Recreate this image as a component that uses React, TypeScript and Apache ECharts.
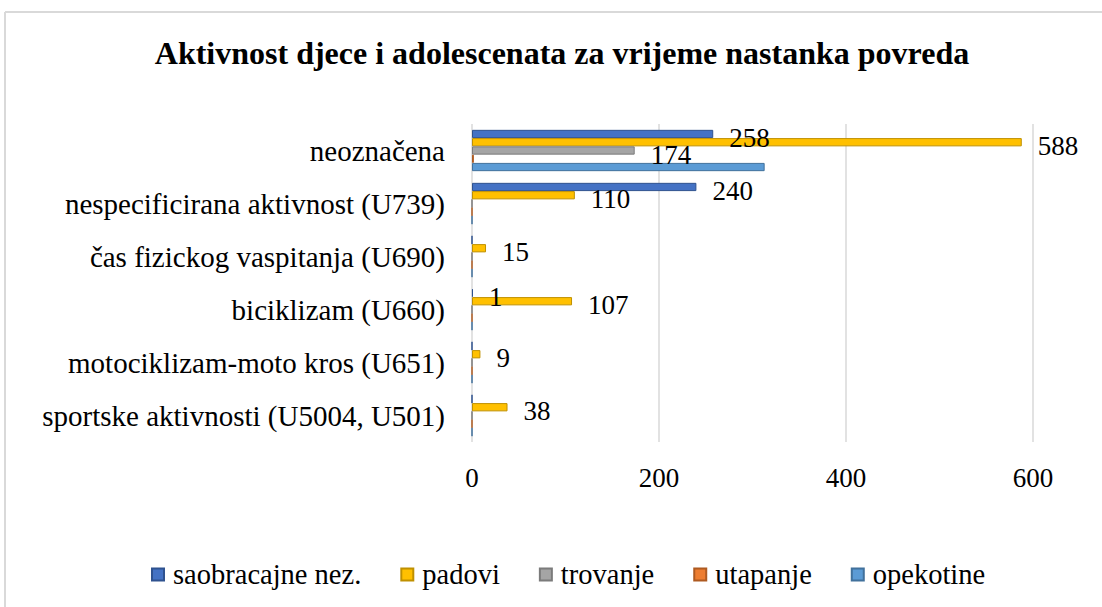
import React, { useEffect, useRef } from "react";
import * as echarts from "echarts";

const categories = [
  "neoznačena",
  "nespecificirana aktivnost (U739)",
  "čas fizickog vaspitanja (U690)",
  "biciklizam (U660)",
  "motociklizam-moto kros (U651)",
  "sportske aktivnosti (U5004, U501)",
];
const seriesNames = ["saobracajne nez.", "padovi", "trovanje", "utapanje", "opekotine"];
const saobracajne = [258, 240, 0, 1, 0, 0];
const padovi = [588, 110, 15, 107, 9, 38];
const trovanje = [174, 0, 0, 0, 0, 0];
const utapanje = [2, 0, 0, 0, 0, 0];
const opekotine = [313, 0, 0, 0, 0, 0];
const xTicks = [0, 200, 400, 600];

const colors = ["#4472C4", "#FFC000", "#A5A5A5", "#ED7D31", "#5B9BD5"];
const borders = ["#2F528F", "#BF9000", "#7B7B7B", "#AE5A21", "#41719C"];
const showLabels = [true, true, true, false, false];

export default function App() {
  const ref = useRef<HTMLDivElement>(null);
  useEffect(() => {
    if (!ref.current) return;
    const chart = echarts.init(ref.current, null, { renderer: "svg" });
    const font = "Liberation Serif";
    const allData = [saobracajne, padovi, trovanje, utapanje, opekotine];
    chart.setOption({
      animation: false,
      backgroundColor: "#ffffff",
      textStyle: { fontFamily: font, color: "#000" },
      title: {
        text: "Aktivnost djece i adolescenata za vrijeme nastanka povreda",
        left: 557,
        textAlign: "center",
        top: 32,
        textStyle: { fontFamily: font, fontSize: 32, fontWeight: "bold", color: "#000" },
      },
      legend: {
        data: seriesNames,
        top: 555,
        left: 146,
        itemWidth: 12,
        itemHeight: 12,
        itemGap: 39,
        icon: "rect",
        textStyle: { fontFamily: font, fontSize: 28.5, color: "#000", padding: [0, 0, 0, 4] },
      },
      grid: { left: 472, right: 69, top: 124, bottom: 165 },
      xAxis: {
        type: "value",
        min: xTicks[0],
        max: xTicks[xTicks.length - 1],
        interval: 200,
        axisLine: { show: false },
        axisTick: { show: false },
        splitLine: { show: true, lineStyle: { color: "#D9D9D9", width: 1.5 } },
        axisLabel: { fontFamily: font, fontSize: 27, color: "#000", margin: 22 },
      },
      yAxis: {
        type: "category",
        data: categories,
        inverse: true,
        axisLine: { show: false },
        axisTick: { show: false },
        axisLabel: {
          margin: 27,
          fontFamily: font,
          fontSize: 29,
          color: "#000",
          padding: [8, 0, 0, 0],
        },
      },
      series: seriesNames.map((name, i) => ({
        name,
        type: "bar",
        data: allData[i],
        barGap: "0%",
        barCategoryGap: "22%",
        itemStyle: { color: colors[i], borderColor: borders[i], borderWidth: 1 },
        label: {
          show: showLabels[i],
          position: "right",
          distance: 16,
          offset: [0, 4],
          fontFamily: font,
          fontSize: 27,
          color: "#000",
          formatter: (p: any) => (p.value > 0 ? String(p.value) : ""),
        },
      })),
      graphic: [
        { type: "line", shape: { x1: 5, y1: 12, x2: 1102, y2: 12 }, style: { stroke: "#D9D9D9", lineWidth: 2 } },
        { type: "line", shape: { x1: 5, y1: 12, x2: 5, y2: 607 }, style: { stroke: "#D9D9D9", lineWidth: 2 } },
      ],
    });
    return () => chart.dispose();
  }, []);
  return (
    <div
      ref={ref}
      style={{ position: "absolute", left: 0, top: 0, width: 1102, height: 607 }}
    />
  );
}
